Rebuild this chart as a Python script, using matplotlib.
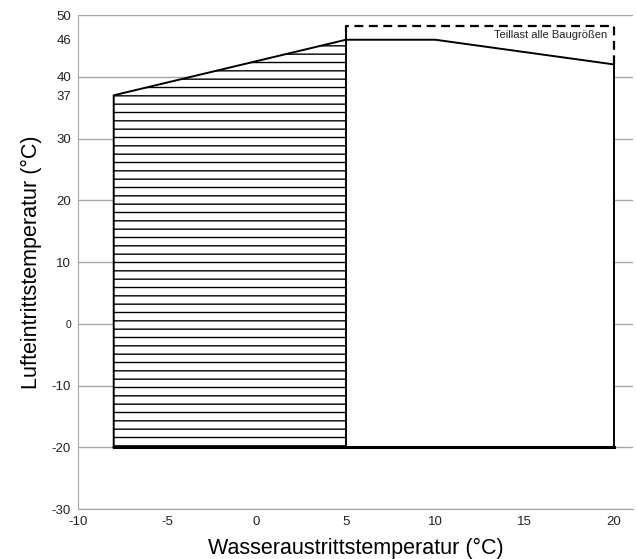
import matplotlib.pyplot as plt
import numpy as np

plt.rcParams['font.family'] = ['Liberation Sans', 'DejaVu Sans']
plt.rcParams['axes.unicode_minus'] = False

# Einsatzgrenze (Umriss)
env_x = [-8, -8, 5, 10, 20, 20, -8]
env_y = [-20, 37, 46, 46, 42, -20, -20]

# schraffierter Bereich
hatch_x = [-8, 5]
hatch_top = [37, 46]
hatch_bottom = -20

# Teillast-Rahmen (gestrichelt)
part_x = [5, 5, 20, 20]
part_y = [47.2, 48.2, 48.2, 42]

# Trennlinie bei 5 °C
sep_x = [5, 5]
sep_y = [-20, 47.2]

x_ticks = [-10, -5, 0, 5, 10, 15, 20]
y_ticks = [-30, -20, -10, 0, 10, 20, 30, 37, 40, 46, 50]
grid_y = [-30, -20, -10, 0, 10, 20, 30, 40, 50]

GRID = '#a6a6a6'
TXT = '#222222'

fig = plt.figure(figsize=(6.36, 5.59), dpi=100)
ax = fig.add_axes([0.1226, 0.0894, 0.8726, 0.8837])

for gy in grid_y:
    ax.axhline(gy, color=GRID, linewidth=1.0, zorder=1)

# weiße Fläche verdeckt das Gitter innerhalb der Einsatzgrenze
ax.fill(env_x, env_y, facecolor='white', edgecolor='none', zorder=2)

plt.rcParams['hatch.linewidth'] = 1.0
ax.fill_between(hatch_x, hatch_top, hatch_bottom, facecolor='white',
                edgecolor='black', hatch='--', linewidth=0, zorder=2.5)

ax.plot(env_x, env_y, color='black', linewidth=1.4, zorder=3)
ax.plot([-8, 20], [-20, -20], color='black', linewidth=2.2, zorder=3)
ax.plot(sep_x, sep_y, color='black', linewidth=1.4, zorder=3)
ax.plot(part_x, part_y, color='black', linewidth=1.6, linestyle=(0, (4, 2.5)), zorder=3)

ax.text(19.6, 46.8, 'Teillast alle Baugrößen', fontsize=8, ha='right', va='center', color=TXT)

ax.set_xlim(-10, 21.06)
ax.set_ylim(-30, 50)
ax.set_xticks(x_ticks)
ax.set_yticks(y_ticks)
ax.tick_params(length=0, labelsize=9.5, labelcolor=TXT)
ax.tick_params(axis='y', pad=5)
ax.tick_params(axis='x', pad=5)
ax.set_xticklabels([str(v) for v in x_ticks])
ax.set_yticklabels([str(v) for v in y_ticks])
for lab in ax.get_yticklabels():
    if lab.get_text() == '0':
        lab.set_fontsize(7.5)

for side in ['top', 'right']:
    ax.spines[side].set_visible(False)
ax.spines['left'].set_color(GRID)
ax.spines['bottom'].set_color(GRID)

ax.set_xlabel('Wasseraustrittstemperatur (°C)', fontsize=15.5, color='black', labelpad=7)
ax.set_ylabel('Lufteintrittstemperatur (°C)', fontsize=15.5, color='black', labelpad=7)

fig.savefig('out.png', dpi=100, facecolor='white')
